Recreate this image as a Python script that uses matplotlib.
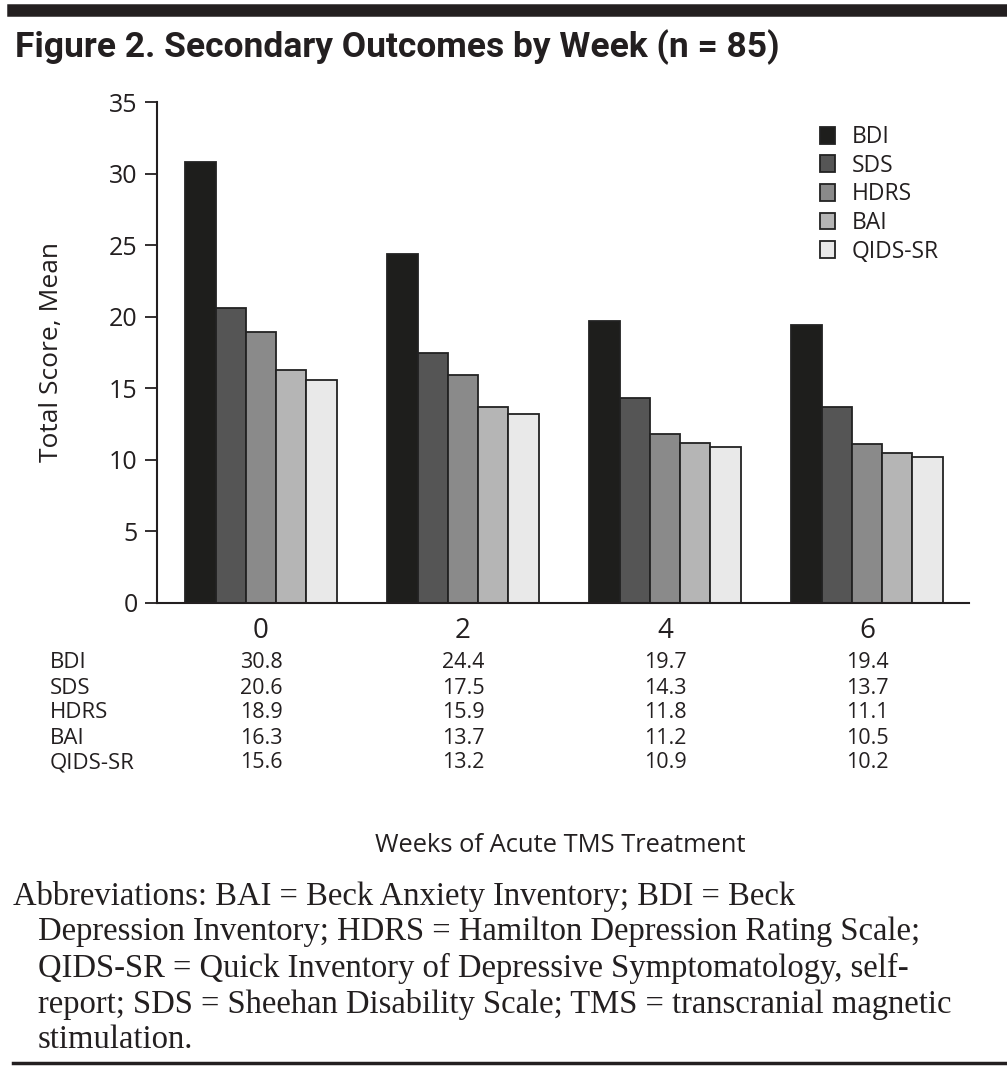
import numpy as np
import matplotlib
matplotlib.use("Agg")
import matplotlib.pyplot as plt

weeks = ["0", "2", "4", "6"]
scales = ["BDI", "SDS", "HDRS", "BAI", "QIDS-SR"]
bdi = [30.8, 24.4, 19.7, 19.4]
sds = [20.6, 17.5, 14.3, 13.7]
hdrs = [18.9, 15.9, 11.8, 11.1]
bai = [16.3, 13.7, 11.2, 10.5]
qids = [15.6, 13.2, 10.9, 10.2]
series = [bdi, sds, hdrs, bai, qids]
colors = ["#1e1e1c", "#555555", "#8a8a8a", "#b5b5b5", "#e9e9e9"]

ink = "#231f20"
sans = ["Open Sans", "DejaVu Sans"]
serif = ["Liberation Serif", "DejaVu Serif"]

fig = plt.figure(figsize=(10.07, 10.68), dpi=100)
ax = fig.add_axes([157 / 1007, 1 - 603 / 1068, (969 - 157) / 1007, (603 - 102) / 1068])

x = np.arange(len(weeks))
w = 0.15
for i, (name, vals) in enumerate(zip(scales, series)):
    ax.bar(x + (i - 2) * w, vals, w, color=colors[i], edgecolor="#222222",
           linewidth=1.3, label=name, zorder=2)

ax.set_xlim(-0.515, 3.505)
ax.set_ylim(0, 35)
ax.set_yticks(range(0, 36, 5))
ax.set_xticks(x)
ax.set_xticklabels(weeks, fontsize=20, family=sans, color=ink)
for lab in ax.get_yticklabels():
    lab.set_fontfamily(sans)
ax.tick_params(axis="y", labelsize=18, length=9, width=1.3, color=ink, labelcolor=ink, pad=5)
ax.tick_params(axis="x", length=0, pad=10)
for s in ["top", "right"]:
    ax.spines[s].set_visible(False)
for s in ["left", "bottom"]:
    ax.spines[s].set_linewidth(1.5)
    ax.spines[s].set_color(ink)
fig.text(52 / 1007, 1 - 352 / 1068, "Total Score, Mean", fontsize=19, family=sans,
         color=ink, rotation=90, ha="center", va="center")

leg = ax.legend(loc="upper left", bbox_to_anchor=(0.805, 0.972), frameon=False,
                prop={"family": sans, "size": 16.5}, handlelength=0.65, handleheight=0.75,
                handletextpad=0.75, labelspacing=0.2, borderaxespad=0)
for t in leg.get_texts():
    t.set_color(ink)

# table of values under the axis
row_y = [663, 688, 713, 738, 763]
for j, name in enumerate(scales):
    fy = 1 - row_y[j] / 1068
    fig.text(50 / 1007, fy, name, fontsize=16, family=sans, color=ink, va="center")
    for k in range(len(weeks)):
        xd = ax.transData.transform((x[k], 0))[0] / fig.bbox.width
        fig.text(xd, fy, f"{series[j][k]:.1f}", fontsize=15.5, family=sans, color=ink,
                 va="center", ha="center")

fig.text(560 / 1007, 1 - 846 / 1068, "Weeks of Acute TMS Treatment", fontsize=18.4,
         family=sans, color=ink, ha="center", va="center")

# title and rules
fig.add_artist(plt.Line2D([13 / 1007, 1], [1 - 9.5 / 1068] * 2, color=ink, linewidth=9))
fig.text(15 / 1007, 1 - 47 / 1068, "Figure 2. Secondary Outcomes by Week (n = 85)",
         fontsize=25.5, fontweight="bold", family=["Roboto", "DejaVu Sans"], color=ink, va="center")
fig.add_artist(plt.Line2D([13 / 1007, 1], [1 - 1063 / 1068] * 2, color=ink, linewidth=2.5))

notes = [
    (13, "Abbreviations: BAI = Beck Anxiety Inventory; BDI = Beck"),
    (38, "Depression Inventory; HDRS = Hamilton Depression Rating Scale;"),
    (38, "QIDS-SR = Quick Inventory of Depressive Symptomatology, self-"),
    (38, "report; SDS = Sheehan Disability Scale; TMS = transcranial magnetic"),
    (38, "stimulation."),
]
for i, (xp, line) in enumerate(notes):
    fig.text(xp / 1007, 1 - (896 + 36 * i) / 1068, line, fontsize=23.5, family=serif,
             color=ink, va="center")

fig.savefig("out.png", dpi=100)
